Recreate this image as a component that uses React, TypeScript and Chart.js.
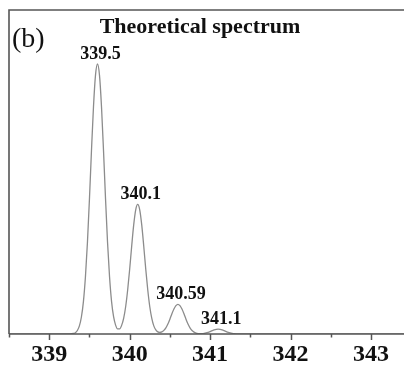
import React, { useEffect, useRef } from "react";
import { Chart, registerables } from "chart.js";

Chart.register(...registerables);

// m/z values (x) and relative intensity (y)
const mzValues: number[] = [
  338.5, 339.2, 339.3, 339.325, 339.35, 339.375, 339.4, 339.425, 339.45, 339.475,
  339.5, 339.525, 339.55, 339.575, 339.6, 339.625, 339.65, 339.675, 339.7, 339.725,
  339.75, 339.775, 339.8, 339.825, 339.85, 339.875, 339.9, 339.925, 339.95, 339.975,
  340.0, 340.025, 340.05, 340.075, 340.1, 340.125, 340.15, 340.175, 340.2, 340.225,
  340.25, 340.275, 340.3, 340.325, 340.35, 340.375, 340.4, 340.425, 340.45, 340.475,
  340.5, 340.525, 340.55, 340.575, 340.6, 340.625, 340.65, 340.675, 340.7, 340.725,
  340.75, 340.775, 340.8, 340.825, 340.85, 340.875, 340.9, 340.925, 340.95, 340.975,
  341.0, 341.025, 341.05, 341.075, 341.1, 341.125, 341.15, 341.175, 341.2, 341.225,
  341.25, 341.275, 341.3, 341.325, 341.35, 341.4, 343.41,
];
const intensity: number[] = [
  0, 0, 0.2, 0.5, 1.3, 3.0, 6.3, 12.0, 21.1, 33.9,
  50.0, 67.8, 84.1, 95.8, 100, 95.8, 84.1, 67.8, 50.0, 33.9,
  21.1, 12.0, 6.4, 3.3, 1.9, 1.9, 3.2, 5.8, 10.1, 16.3,
  24.0, 32.5, 40.4, 46.0, 48.0, 46.0, 40.4, 32.5, 24.0, 16.3,
  10.1, 5.8, 3.0, 1.5, 0.8, 0.6, 0.8, 1.35, 2.3, 3.7,
  5.5, 7.5, 9.25, 10.5, 11.0, 10.5, 9.25, 7.5, 5.5, 3.7,
  2.3, 1.3, 0.7, 0.34, 0.16, 0.11, 0.13, 0.22, 0.38, 0.61,
  0.9, 1.22, 1.51, 1.72, 1.8, 1.72, 1.51, 1.22, 0.9, 0.61,
  0.38, 0.22, 0.11, 0.05, 0.02, 0, 0,
];

// peak annotations
const peakX: number[] = [339.6, 340.1, 340.6, 341.1];
const peakY: number[] = [100, 48, 11, 1.8];
const peakText: string[] = ["339.5", "340.1", "340.59", "341.1"];

// axis ticks
const xMin = 338.5;
const xMax = 343.41;
const majorTicks: number[] = [339, 340, 341, 342, 343];
const minorTicks: number[] = [338.5, 339.5, 340.5, 341.5, 342.5];

const titleText = "Theoretical spectrum";
const panelText = "(b)";

const SERIF = '"Liberation Serif", "Times New Roman", serif';

const framePlugin = {
  id: "framePlugin",
  afterDraw(chart: any) {
    const { ctx, chartArea } = chart;
    const xs = chart.scales.x;
    const ys = chart.scales.y;
    ctx.save();
    // frame
    ctx.strokeStyle = "#555555";
    ctx.lineWidth = 1.6;
    ctx.beginPath();
    ctx.moveTo(chartArea.left, chartArea.bottom);
    ctx.lineTo(chartArea.left, chartArea.top);
    ctx.lineTo(chart.width, chartArea.top);
    ctx.stroke();
    ctx.beginPath();
    ctx.moveTo(chartArea.left, chartArea.bottom);
    ctx.lineTo(chart.width, chartArea.bottom);
    ctx.stroke();
    // ticks
    ctx.lineWidth = 1.5;
    majorTicks.forEach((v) => {
      const px = Math.round(xs.getPixelForValue(v)) + 0.5;
      ctx.beginPath();
      ctx.moveTo(px, chartArea.bottom);
      ctx.lineTo(px, chartArea.bottom + 6);
      ctx.stroke();
    });
    minorTicks.forEach((v) => {
      const px = Math.round(xs.getPixelForValue(v)) + 0.5;
      ctx.beginPath();
      ctx.moveTo(px, chartArea.bottom);
      ctx.lineTo(px, chartArea.bottom + 3.5);
      ctx.stroke();
    });
    // title and panel label
    ctx.fillStyle = "#111111";
    ctx.textAlign = "center";
    ctx.textBaseline = "alphabetic";
    ctx.font = `bold 22px ${SERIF}`;
    ctx.fillText(titleText, 200, 33);
    ctx.textAlign = "left";
    ctx.font = `28px ${SERIF}`;
    ctx.fillText(panelText, 12, 47);
    // peak labels
    ctx.textAlign = "center";
    ctx.font = `bold 18px ${SERIF}`;
    peakText.forEach((t, i) => {
      const px = xs.getPixelForValue(peakX[i]) + 3;
      const py = ys.getPixelForValue(peakY[i]) - 5;
      ctx.fillText(t, px, py);
    });
    ctx.restore();
  },
};

export default function App() {
  const ref = useRef<HTMLCanvasElement>(null);
  useEffect(() => {
    if (!ref.current) return;
    const chart = new Chart(ref.current, {
      type: "line",
      data: {
        datasets: [
          {
            data: mzValues.map((x, i) => ({ x, y: intensity[i] })),
            borderColor: "#8c8c8c",
            borderWidth: 1.3,
            pointRadius: 0,
            cubicInterpolationMode: "monotone",
            fill: false,
          },
        ],
      },
      options: {
        responsive: false,
        animation: false,
        layout: { padding: { left: 9, top: 10, right: 0, bottom: 0 } },
        plugins: { legend: { display: false }, tooltip: { enabled: false }, title: { display: false } },
        scales: {
          x: {
            type: "linear",
            min: xMin,
            max: xMax,
            grid: { display: false, drawTicks: false, tickLength: 0 },
            border: { display: false },
            afterBuildTicks: (scale: any) => {
              scale.ticks = majorTicks.map((v) => ({ value: v }));
            },
            afterFit: (scale: any) => {
              scale.height = 33;
            },
            ticks: {
              padding: 6,
              autoSkip: false,
              maxRotation: 0,
              color: "#111111",
              font: { family: SERIF, size: 24, weight: "bold" },
              callback: (v: any) => String(v),
            },
          },
          y: { display: false, min: 0, max: 120 },
        },
      },
      plugins: [framePlugin],
    });
    return () => chart.destroy();
  }, []);
  return (
    <canvas
      ref={ref}
      width={404}
      height={367}
      style={{ position: "fixed", left: 0, top: 0, width: 404, height: 367, background: "#fff" }}
    />
  );
}
